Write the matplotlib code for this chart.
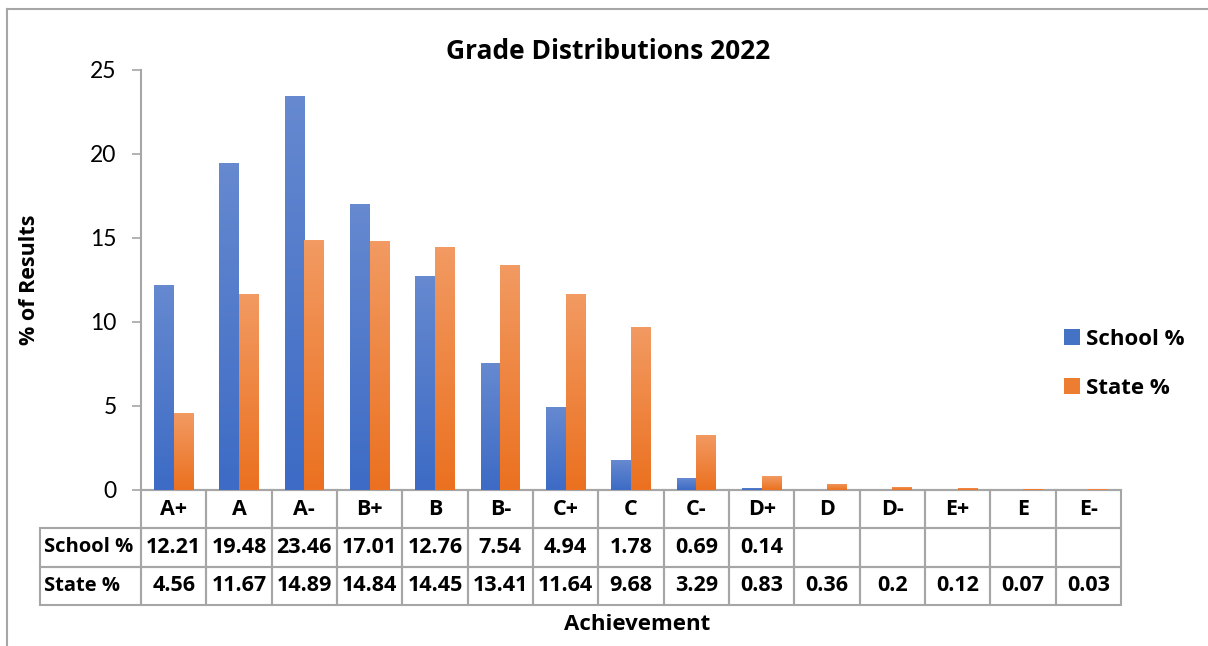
import matplotlib
import numpy as np

matplotlib.use("Agg")
import matplotlib.pyplot as plt
from matplotlib.colors import LinearSegmentedColormap
from matplotlib.lines import Line2D
from matplotlib.table import Table

plt.rcParams["font.family"] = ["Open Sans", "DejaVu Sans"]

grades = ["A+", "A", "A-", "B+", "B", "B-", "C+", "C", "C-",
          "D+", "D", "D-", "E+", "E", "E-"]
school_pct = [12.21, 19.48, 23.46, 17.01, 12.76, 7.54, 4.94, 1.78, 0.69,
              0.14, np.nan, np.nan, np.nan, np.nan, np.nan]
state_pct = [4.56, 11.67, 14.89, 14.84, 14.45, 13.41, 11.64, 9.68, 3.29,
             0.83, 0.36, 0.2, 0.12, 0.07, 0.03]
series_names = ["School %", "State %"]

BLUE = "#4472C4"
ORANGE = "#ED7D31"
GRID_GREY = "#A6A6A6"
W, H = 1208, 646


def fmt(v):
    return "" if np.isnan(v) else str(v)


def gradient_fill(ax, bars, top_color, bottom_color):
    """
    Paint each bar with a vertical gradient, lighter at the top like Excel.
    """
    cmap = LinearSegmentedColormap.from_list("g", [bottom_color, top_color])
    grad = np.linspace(0, 1, 64).reshape(-1, 1)
    for bar in bars:
        h = bar.get_height()
        if not np.isfinite(h) or h <= 0:
            continue
        x = bar.get_x()
        im = ax.imshow(grad, cmap=cmap, origin="lower", aspect="auto",
                       extent=[x, x + bar.get_width(), 0, h], zorder=3)
        im.set_clip_path(bar)


fig = plt.figure(figsize=(W / 100, H / 100), dpi=100)
ax = fig.add_axes([141 / W, 1 - 490 / H, 980 / W, 420 / H])

x = np.arange(len(grades))
bw = 0.3
school_bars = ax.bar(x - bw / 2, school_pct, bw, color=BLUE, zorder=2,
                     label=series_names[0])
state_bars = ax.bar(x + bw / 2, state_pct, bw, color=ORANGE, zorder=2,
                    label=series_names[1])
gradient_fill(ax, school_bars, "#6689D0", "#3D6BC5")
gradient_fill(ax, state_bars, "#F29A62", "#EB7120")

ax.set_xlim(-0.5, len(grades) - 0.5)
ax.set_ylim(0, 25)
ax.set_yticks(np.arange(0, 26, 5))
ax.set_xticks([])
ax.tick_params(axis="y", direction="out", length=6.5, width=1.2,
               color=GRID_GREY, labelsize=16.5, pad=11, labelfontfamily="Lato")
for side in ["top", "right"]:
    ax.spines[side].set_visible(False)
for side in ["left", "bottom"]:
    ax.spines[side].set_color(GRID_GREY)
    ax.spines[side].set_linewidth(1.5)

ax.set_title("Grade Distributions 2022", fontsize=19, fontweight="bold",
             x=(608 - 141) / 980, pad=8)
ax.set_ylabel("% of Results", fontsize=15.5, fontweight="bold")
ax.yaxis.set_label_coords((40 - 141) / 980, 0.5)
ax.set_xlabel("Achievement", fontsize=16, fontweight="bold")
ax.xaxis.set_label_coords((637 - 141) / 980, (490 - 614) / 420)

# data table under the axis
rows = [[""] + grades,
        [series_names[0]] + [fmt(v) for v in school_pct],
        [series_names[1]] + [fmt(v) for v in state_pct]]
label_w = (141 - 40) / 980
col_widths = [label_w] + [1 / len(grades)] * len(grades)
tbl_h = (605 - 490) / 420
table = Table(ax, bbox=[-label_w, -tbl_h, 1 + label_w, tbl_h])
for r, row in enumerate(rows):
    for c, txt in enumerate(row):
        cell = table.add_cell(r, c, width=col_widths[c], height=1,
                              text=txt, loc="left" if c == 0 else "center",
                              edgecolor=GRID_GREY, facecolor="none")
        cell.PAD = 0.04
        cell.set_linewidth(1.5)
        cell.get_text().set_fontweight("bold")
        if r == 0 and c == 0:
            cell.visible_edges = ""
table.auto_set_font_size(False)
table.set_fontsize(15.5)
for r in range(len(rows)):
    table[r, 0].get_text().set_fontsize(14.5)
ax.add_table(table)

ax.legend(loc="upper left", bbox_to_anchor=(1064 / W, 1 - 329 / H),
          bbox_transform=fig.transFigure, frameon=False, borderpad=0,
          borderaxespad=0, handlelength=0.7, handleheight=0.7,
          handletextpad=0.3, labelspacing=1.25,
          prop={"weight": "bold", "size": 16})

# outer chart frame
fig.add_artist(Line2D([7 / W, 7 / W], [0, 1 - 9 / H], transform=fig.transFigure,
                      color=GRID_GREY, lw=1.5))
fig.add_artist(Line2D([7 / W, 1], [1 - 9 / H, 1 - 9 / H],
                      transform=fig.transFigure, color=GRID_GREY, lw=1.5))

fig.savefig("out.png", dpi=100)
